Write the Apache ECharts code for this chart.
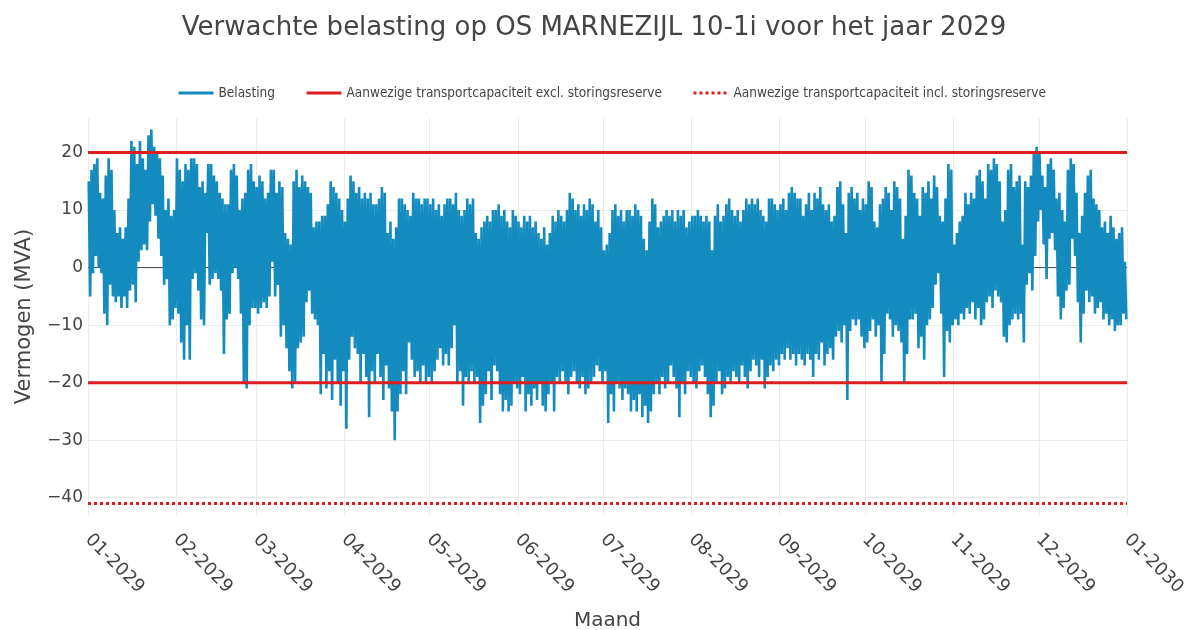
<!DOCTYPE html>
<html>
<head>
<meta charset="utf-8">
<title>Verwachte belasting OS MARNEZIJL 10-1i 2029</title>
<script src="https://cdn.jsdelivr.net/npm/echarts@6.0.0/dist/echarts.min.js"></script>
<style>
  html, body { margin: 0; padding: 0; background: #fff; }
  #chart { width: 1188px; height: 630px; }
</style>
</head>
<body>
<div id="chart"></div>
<script>
// daily highest load (MVA), one row per month
const dailyPeak = [
  15, 17, 18, 19, 13, 12, 16, 19, 17, 10, 6, 7, 5, 7, 12, 22, 21, 18, 22, 19, 17, 23, 24, 21, 20, 19, 16, 10, 12, 9, 10,
  19, 17, 15, 18, 17, 19, 19, 18, 14, 15, 13, 18, 18, 16, 15, 13, 12, 11, 11, 17, 18, 16, 10, 12, 13, 17, 18, 15,
  14, 16, 15, 12, 13, 17, 17, 13, 15, 14, 6, 5, 4, 15, 17, 14, 16, 15, 14, 13, 7, 8, 8, 9, 9, 11, 15, 14, 13, 12, 10,
  8, 12, 16, 15, 13, 14, 12, 13, 12, 13, 11, 11, 12, 14, 13, 6, 8, 5, 7, 12, 12, 11, 10, 9, 13, 12, 12, 11, 12, 12,
  11, 12, 10, 11, 9, 11, 12, 12, 11, 13, 10, 9, 10, 12, 11, 12, 6, 5, 7, 8, 9, 8, 10, 10, 11, 9, 10, 8, 7, 10, 9,
  8, 7, 9, 8, 9, 7, 8, 6, 5, 7, 4, 6, 9, 8, 10, 9, 8, 10, 13, 12, 10, 11, 9, 11, 10, 12, 11, 8, 10, 7,
  3, 4, 6, 10, 11, 9, 10, 8, 10, 10, 9, 11, 10, 9, 5, 3, 8, 12, 11, 7, 8, 9, 10, 9, 10, 8, 10, 9, 10, 7, 8,
  9, 9, 10, 9, 8, 9, 8, 3, 9, 11, 8, 9, 11, 12, 10, 9, 10, 8, 10, 12, 11, 12, 11, 12, 10, 9, 8, 12, 12, 11, 10,
  11, 12, 10, 13, 14, 13, 12, 12, 9, 11, 13, 10, 13, 12, 14, 11, 10, 11, 8, 9, 14, 15, 11, 6, 13, 14, 12, 13, 10, 12,
  11, 15, 14, 8, 7, 11, 12, 14, 13, 10, 15, 14, 12, 5, 9, 17, 16, 13, 12, 9, 14, 13, 15, 12, 16, 14, 9, 8, 12, 18, 17,
  4, 6, 8, 9, 13, 11, 13, 12, 16, 17, 15, 12, 18, 17, 19, 18, 15, 8, 10, 17, 18, 14, 15, 16, 4, 15, 14, 16, 20, 21,
  20, 16, 14, 18, 19, 17, 12, 13, 10, 8, 17, 19, 18, 13, 6, 9, 13, 16, 17, 12, 11, 10, 7, 8, 6, 9, 7, 5, 6, 7, 1
];

// daily lowest load (MVA), one row per month
const dailyDip = [
  -5, -1, 2, 0, -1, -8, -10, -3, -5, -6, -5, -7, -5, -7, -4, -3, -6, 1, 3, 4, 3, 8, 11, 9, 5, 2, -3, -2, -10, -9, -7,
  -8, -13, -16, -10, -16, -2, -1, -4, -9, -10, 6, -3, -2, -1, -2, -4, -15, -9, -8, -1, 0, -2, -8, -20, -21, -10, -7, -7,
  -8, -7, -6, -7, -5, 1, -5, -3, -12, -10, -14, -18, -21, -20, -14, -13, -12, -6, -4, -8, -9, -10, -22, -15, -21, -18, -23, -16, -20, -24, -18,
  -28, -16, -12, -14, -15, -20, -15, -19, -26, -18, -20, -15, -19, -23, -17, -21, -25, -30, -25, -22, -18, -22, -13, -16, -19, -18, -20, -17, -20, -19,
  -20, -18, -16, -14, -17, -15, -17, -14, -10, -20, -18, -24, -19, -20, -18, -20, -19, -27, -24, -22, -18, -23, -17, -18, -22, -25, -23, -25, -24, -20, -21,
  -22, -19, -25, -22, -24, -21, -23, -20, -24, -25, -22, -20, -25, -19, -20, -18, -20, -22, -19, -18, -20, -21, -19, -22, -21, -20, -19, -17, -18, -20,
  -18, -27, -22, -25, -20, -21, -23, -21, -22, -25, -23, -25, -22, -26, -24, -27, -25, -22, -20, -22, -19, -21, -20, -17, -19, -21, -26, -20, -22, -18, -19,
  -20, -21, -18, -17, -19, -22, -26, -24, -20, -18, -22, -21, -19, -20, -18, -19, -20, -17, -19, -21, -18, -16, -17, -19, -16, -21, -19, -17, -18, -16, -17,
  -15, -16, -14, -16, -15, -17, -15, -16, -17, -15, -16, -19, -15, -16, -13, -17, -15, -14, -16, -12, -11, -13, -10, -23, -11, -9, -10, -9, -12, -14,
  -13, -11, -9, -12, -10, -20, -15, -8, -9, -12, -10, -11, -13, -20, -15, -9, -9, -8, -14, -12, -16, -10, -9, -7, -3, -1, -8, -19, -11, -13, -10,
  -9, -10, -8, -9, -7, -8, -6, -9, -7, -10, -9, -6, -5, -7, -4, -5, -6, -12, -13, -10, -9, -8, -9, -8, -13, -3, -1, -4, 2, 8,
  10, 4, -2, 5, 6, 3, -5, -9, -7, -4, -3, 5, 2, -6, -13, -8, -4, -6, -5, -8, -7, -6, -9, -8, -10, -9, -11, -10, -10, -8, -9
];

// capacity levels (MVA)
const capExcl = [20, -20];
const capIncl = [-41];

const yearStart = new Date(2029, 0, 1).getTime();
const yearEnd = new Date(2030, 0, 1).getTime();

const nameLoad = 'Belasting';
const nameExcl = 'Aanwezige transportcapaciteit excl. storingsreserve';
const nameIncl = 'Aanwezige transportcapaciteit incl. storingsreserve';

// two points per day: the peak and the dip
let loadPoints = [];
dailyPeak.forEach((peak, d) => {
  loadPoints.push([new Date(2029, 0, 1 + d, 6).getTime(), peak]);
  loadPoints.push([new Date(2029, 0, 1 + d, 18).getTime(), dailyDip[d]]);
});

function flatLine(level) {
  return [[yearStart, level], [yearEnd, level]];
}

const red = '#dc1e1e';
const blue = '#138bbf';
const txt = '#444';

let chart = echarts.init(document.getElementById('chart'), null, { renderer: 'canvas' });

let series = [
  {
    // zero line, under the data like plotly's zeroline
    name: 'zero',
    type: 'line',
    data: flatLine(0),
    symbol: 'none',
    silent: true,
    z: 1,
    lineStyle: { color: txt, width: 1 }
  },
  {
    name: nameLoad,
    type: 'line',
    data: loadPoints,
    symbol: 'none',
    sampling: 'none',
    z: 2,
    color: blue,
    lineStyle: { color: blue, width: 2.6 }
  }
];

capExcl.forEach(level => {
  series.push({
    name: nameExcl,
    type: 'line',
    data: flatLine(level),
    symbol: 'none',
    z: 3,
    color: red,
    lineStyle: { color: red, width: 3 }
  });
});

capIncl.forEach(level => {
  series.push({
    name: nameIncl,
    type: 'line',
    data: flatLine(level),
    symbol: 'none',
    z: 3,
    color: red,
    lineStyle: { color: red, width: 3, type: [3, 3] }
  });
});

let option = {
  animation: false,
  backgroundColor: '#fff',
  textStyle: { fontFamily: 'DejaVu Sans' },
  title: {
    text: 'Verwachte belasting op OS MARNEZIJL 10-1i voor het jaar 2029',
    left: 'center',
    top: 10,
    textStyle: { fontFamily: 'DejaVu Sans', fontSize: 26, fontWeight: 'normal', color: txt }
  },
  legend: {
    data: [nameLoad, nameExcl, nameIncl],
    left: 172,
    top: 81,
    itemWidth: 35,
    itemHeight: 14,
    itemGap: 30,
    itemStyle: { opacity: 0 },
    lineStyle: { width: 3 },
    textStyle: {
      fontFamily: 'DejaVu Sans Condensed, Liberation Sans Narrow, DejaVu Sans',
      fontSize: 13.5,
      color: txt
    }
  },
  grid: { left: 88, right: 61, top: 118, bottom: 115, outerBoundsMode: 'none' },
  xAxis: {
    type: 'time',
    min: yearStart,
    max: yearEnd,
    splitNumber: 12,
    minInterval: 28 * 86400000,
    maxInterval: 31 * 86400000,
    name: 'Maand',
    nameLocation: 'middle',
    nameGap: 96,
    nameTextStyle: { fontSize: 20, color: txt },
    axisLine: { show: false, onZero: false },
    axisTick: { show: false },
    axisLabel: {
      rotate: -45,
      margin: 22,
      fontSize: 18,
      color: txt,
      interval: 0,
      hideOverlap: false,
      showMinLabel: true,
      showMaxLabel: true,
      formatter: v => echarts.time.format(v, '{MM}-{yyyy}', false)
    },
    splitLine: { show: true, lineStyle: { color: '#ebebeb', width: 1 } }
  },
  yAxis: {
    type: 'value',
    min: -43,
    max: 26,
    name: 'Vermogen (MVA)',
    nameLocation: 'middle',
    nameGap: 53,
    nameTextStyle: { fontSize: 21, color: txt },
    axisLine: { show: false },
    axisTick: { show: false },
    axisLabel: {
      fontSize: 17,
      color: txt,
      margin: 5,
      showMinLabel: false,
      showMaxLabel: false,
      formatter: v => (v < 0 ? '\u2212' + Math.abs(v) : String(v))
    },
    splitLine: {
      show: true,
      lineStyle: {
        color: ['rgba(0,0,0,0)', '#ebebeb', '#ebebeb', '#ebebeb', '#ebebeb', '#ebebeb', '#ebebeb', '#ebebeb', 'rgba(0,0,0,0)'],
        width: 1
      }
    }
  },
  series: series
};

chart.setOption(option);
</script>
</body>
</html>
